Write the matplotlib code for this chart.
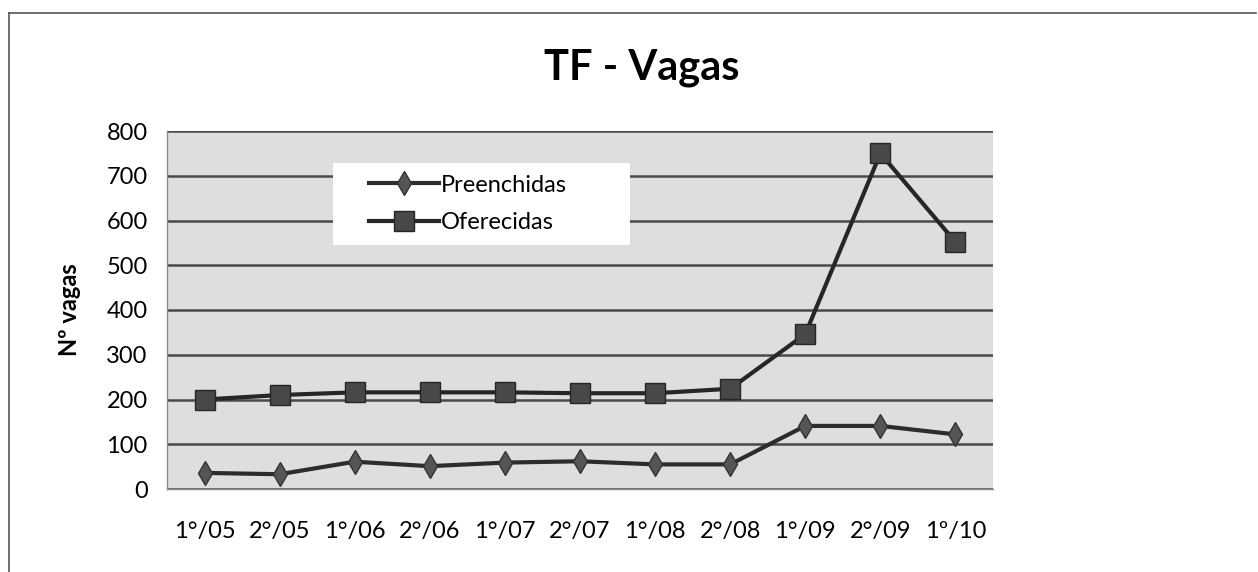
import numpy as np
import matplotlib.pyplot as plt
from matplotlib.lines import Line2D
from matplotlib.patches import Rectangle

plt.rcParams['font.family'] = ['Lato', 'DejaVu Sans']

periodos = ['1°/05', '2°/05', '1°/06', '2°/06', '1°/07', '2°/07',
            '1°/08', '2°/08', '1°/09', '2°/09', '1º/10']
preenchidas = [36, 33, 61, 51, 59, 62, 55, 55, 141, 141, 122]
oferecidas = [200, 210, 216, 216, 216, 214, 214, 224, 346, 750, 552]
yticks = [0, 100, 200, 300, 400, 500, 600, 700, 800]

fig = plt.figure(figsize=(12.58, 5.72), dpi=100)
fig.patch.set_facecolor('white')

# moldura externa do grafico
W, H = 1258, 572
fig.add_artist(Line2D([9 / W, 9 / W], [0, 1 - 13 / H], transform=fig.transFigure,
                      color='#555555', lw=1.2))
fig.add_artist(Line2D([9 / W, 1256 / W], [1 - 13 / H, 1 - 13 / H],
                      transform=fig.transFigure, color='#555555', lw=1.2))

ax = fig.add_axes([167 / W, 1 - 489 / H, 826 / W, 358 / H])
ax.set_facecolor('#dedede')

x = np.arange(len(periodos))
ax.plot(x, preenchidas, color='#2c2c2c', lw=3, marker='d', markersize=12,
        markerfacecolor='#555555', markeredgecolor='#333333', label='Preenchidas',
        zorder=3)
ax.plot(x, oferecidas, color='#262626', lw=3, marker='s', markersize=14,
        markerfacecolor='#484848', markeredgecolor='#262626', label='Oferecidas',
        zorder=3)

ax.set_xlim(-0.5, len(periodos) - 0.5)
ax.set_ylim(0, 800)
ax.set_yticks(yticks)
ax.set_yticklabels([str(v) for v in yticks], fontsize=17)
ax.set_xticks(x)
ax.set_xticklabels(periodos, fontsize=17)
ax.tick_params(axis='both', length=0)
ax.tick_params(axis='y', pad=14)
ax.tick_params(axis='x', pad=23)
ax.yaxis.grid(True, color='#4a4a4a', lw=1.8)
ax.set_axisbelow(True)
for s in ['top', 'right']:
    ax.spines[s].set_visible(False)
for s in ['left', 'bottom']:
    ax.spines[s].set_color('#8a8a8a')
    ax.spines[s].set_linewidth(1)

ax.set_ylabel('Nº vagas', fontsize=17, fontweight='bold', labelpad=18)

fig.text(642 / W, 1 - 68 / H, 'TF - Vagas', ha='center', va='center',
         fontsize=30, fontweight='bold')

# caixa branca da legenda
ax.add_patch(Rectangle((0.201, 0.6816), 0.3596, 0.229, transform=ax.transAxes,
                       facecolor='white', edgecolor='none', zorder=4))
leg = ax.legend(loc='upper left', bbox_to_anchor=(0.244, 0.878), fontsize=17,
                frameon=False, borderpad=0, handlelength=3.0,
                handletextpad=0.05, labelspacing=0.7, borderaxespad=0)
leg.set_zorder(5)

fig.savefig('out.png', dpi=100)
